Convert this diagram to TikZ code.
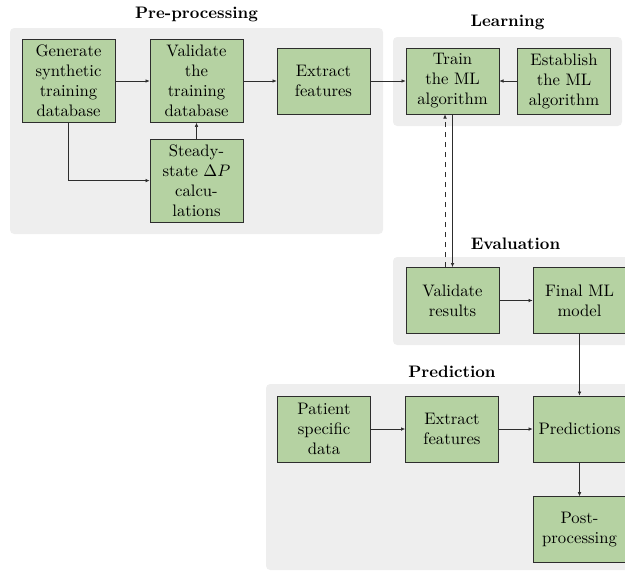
\documentclass[tikz,border=0pt]{standalone}
\usetikzlibrary{positioning}
\usetikzlibrary{arrows.meta}

\definecolor{boxgreen}{RGB}{181,210,162}
\definecolor{groupgray}{RGB}{238,238,238}
\definecolor{linegray}{RGB}{45,45,45}

\begin{document}
\begin{tikzpicture}[x=0.6pt,y=-0.6pt,
  stage/.style={rectangle,draw=linegray,fill=boxgreen,align=center,minimum width=55.8pt,minimum height=39.6pt,inner sep=3.33pt},
  group/.style={fill=groupgray,rounded corners=2.5pt},
  grouptitle/.style={font=\bfseries,anchor=base},
  flow/.style={draw=linegray,-{Latex[length=2.5pt,width=2.2pt]}}]
\useasboundingbox (0,0) rectangle (625,573);
\clip (0,0) rectangle (625,573);

\fill[group] (10,28) rectangle (383,234);
\fill[group] (393,37) rectangle (622,126);
\fill[group] (393,257) rectangle (638,345);
\fill[group] (266,384) rectangle (638,570);
\node[grouptitle] (pretitle) at (196.5,18) {Pre-processing};
\node[grouptitle] (learntitle) at (507.5,26.5) {Learning};
\node[grouptitle] (evaltitle) at (515.5,249) {Evaluation};
\node[grouptitle] (predtitle) at (452,377) {Prediction};

\node[stage] (gen) at (68.5,81) {Generate\\synthetic\\training\\database};
\node[stage] (val) at (196.5,81) {Validate\\the\\training\\database};
\node[stage] (ext) at (323.5,81) {Extract\\features};
\node[stage,below=9.6pt of val] (steady) {Steady-\\state $\Delta P$\\calcu-\\lations};
\node[stage] (train) at (452.5,81) {Train\\the ML\\algorithm};
\node[stage] (estab) at (564,81) {Establish\\the ML\\algorithm};

\node[stage] (vres) at (452.5,300.5) {Validate\\results};
\node[stage] (final) at (579.5,300.5) {Final ML\\model};

\node[stage] (patient) at (324,429) {Patient\\specific\\data};
\node[stage] (ext2) at (452,429) {Extract\\features};
\node[stage] (pred) at (579.5,429) {Predictions};
\node[stage,below=20.4pt of pred] (post) {Post-\\processing};

\draw[flow] (gen) -- (val);
\draw[flow] (val) -- (ext);
\draw[flow] (gen) |- (steady);
\draw[flow] (steady) -- (val);
\draw[flow] (ext) -- (train);
\draw[flow] (estab) -- (train);
\draw[flow,dashed] ([xshift=-4.5pt]vres.north) -- ([xshift=-4.5pt]train.south);
\draw[flow] (train) -- (vres);
\draw[flow] (vres) -- (final);
\draw[flow] (final) -- (pred);
\draw[flow] (patient) -- (ext2);
\draw[flow] (ext2) -- (pred);
\draw[flow] (pred) -- (post);

\end{tikzpicture}
\end{document}
